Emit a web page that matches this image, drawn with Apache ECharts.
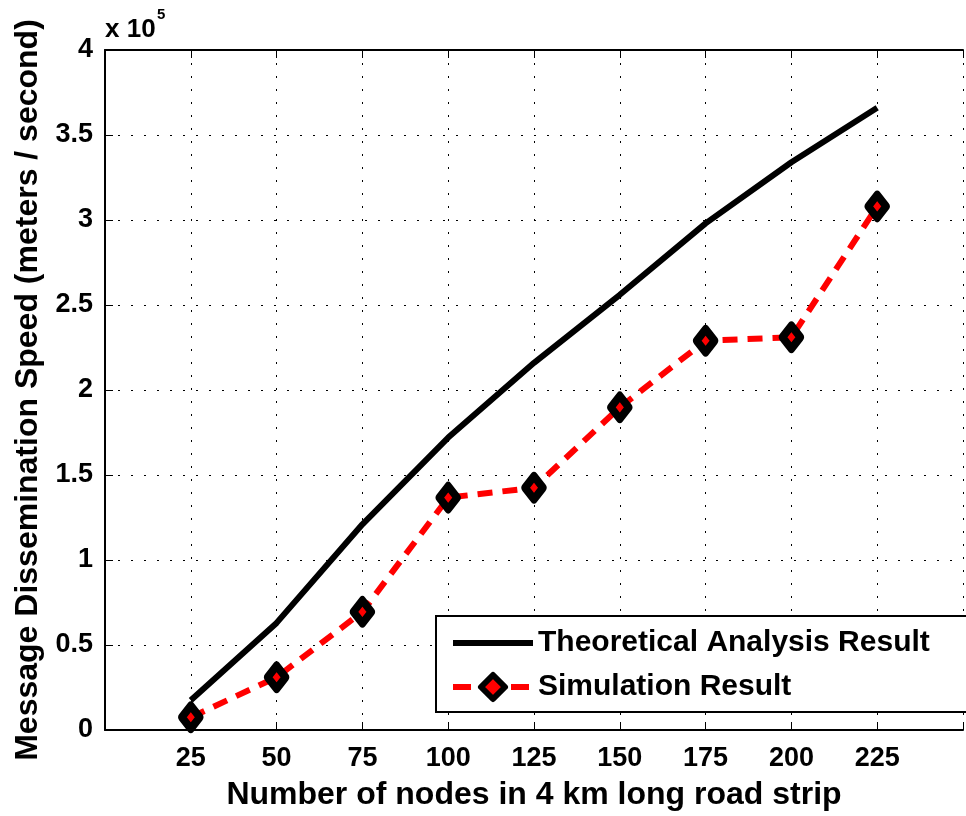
<!DOCTYPE html>
<html><head><meta charset="utf-8">
<script src="https://cdn.jsdelivr.net/npm/echarts@6/dist/echarts.min.js"></script>
<style>html,body{margin:0;padding:0;background:#fff;overflow:hidden}#c{width:966px;height:816px}</style>
</head><body><div id="c"></div>
<script>
const nodes = [25, 50, 75, 100, 125, 150, 175, 200, 225];
const theoretical = [0.175, 0.63, 1.21, 1.72, 2.16, 2.56, 2.98, 3.34, 3.66];
const simulation = [0.075, 0.31, 0.695, 1.367, 1.425, 1.898, 2.29, 2.31, 3.08];
const xLabels = [25, 50, 75, 100, 125, 150, 175, 200, 225];
const seriesNames = ['Theoretical Analysis Result', 'Simulation Result'];
const xTitle = 'Number of nodes in 4 km long road strip';
const yTitle = 'Message Dissemination Speed (meters / second)';

const FONT = '"Liberation Sans", Arial, Helvetica, sans-serif';
const chart = echarts.init(document.getElementById('c'), null, {renderer: 'canvas', width: 966, height: 816});
const dotted = {color: '#000', width: 1, type: [2, 11]};

chart.setOption({
  animation: false,
  backgroundColor: '#fff',
  grid: {left: 105, top: 50, right: -6, bottom: 81, containLabel: false},
  legend: {
    orient: 'vertical',
    left: 436, top: 616,
    padding: [12, 80, 10, 14],
    itemGap: 14,
    itemWidth: 80, itemHeight: 30,
    backgroundColor: '#fff',
    borderColor: '#000', borderWidth: 2, borderRadius: 0,
    textStyle: {fontFamily: FONT, fontWeight: 'bold', fontSize: 30, color: '#000', lineHeight: 30},
    data: [
      {name: seriesNames[0], icon: 'path://M0 0H80V6H0Z', itemStyle: {color: '#000'}},
      {name: seriesNames[1], lineStyle: {width: 6, type: [18, 40], color: '#ff0000'},
       itemStyle: {color: '#ff0000', borderColor: '#000', borderWidth: 6, borderJoin: 'round'}}
    ]
  },
  xAxis: [{
    type: 'value', min: 0, max: 250, interval: 25, position: 'bottom',
    name: xTitle, nameLocation: 'middle', nameGap: 49,
    nameTextStyle: {fontFamily: FONT, fontWeight: 'bold', fontSize: 32, color: '#000'},
    axisLine: {show: true, lineStyle: {color: '#000', width: 2}},
    axisTick: {show: true, inside: true, length: 8, lineStyle: {color: '#000', width: 1}},
    axisLabel: {
      fontFamily: FONT, fontWeight: 'bold', fontSize: 27, color: '#000', margin: 15,
      formatter: v => xLabels.indexOf(v) >= 0 ? String(v) : ''
    },
    splitLine: {show: true, lineStyle: dotted}
  }, {
    type: 'value', min: 0, max: 250, interval: 25, position: 'top',
    axisLine: {show: true, onZero: false, lineStyle: {color: '#000', width: 2}},
    axisTick: {show: true, inside: true, length: 8, lineStyle: {color: '#000', width: 1}},
    axisLabel: {show: false}, splitLine: {show: false}
  }],
  yAxis: {
    type: 'value', min: 0, max: 4, interval: 0.5,
    name: yTitle, nameLocation: 'middle', nameGap: 60, nameRotate: 90,
    nameTextStyle: {fontFamily: FONT, fontWeight: 'bold', fontSize: 32, color: '#000'},
    axisLine: {show: true, lineStyle: {color: '#000', width: 2}},
    axisTick: {show: true, inside: true, length: 8, lineStyle: {color: '#000', width: 1}},
    axisLabel: {fontFamily: FONT, fontWeight: 'bold', fontSize: 27, color: '#000', margin: 12},
    splitLine: {show: true, lineStyle: dotted}
  },
  graphic: [{
    type: 'text', x: 105, y: 30, z: 100,
    style: {text: 'x 10', fontFamily: FONT, fontWeight: 'bold', fontSize: 26, fill: '#000', align: 'left', verticalAlign: 'middle'}
  }, {
    type: 'text', x: 157, y: 15, z: 100,
    style: {text: '5', fontFamily: FONT, fontWeight: 'bold', fontSize: 15, fill: '#000', align: 'left', verticalAlign: 'middle'}
  }],
  series: [{
    name: seriesNames[0], type: 'line', xAxisIndex: 0,
    data: nodes.map((n, i) => [n, theoretical[i]]),
    showSymbol: false, symbol: 'none',
    lineStyle: {color: '#000', width: 6, type: 'solid', cap: 'butt'},
    itemStyle: {color: '#000'}, z: 2
  }, {
    name: seriesNames[1], type: 'line', xAxisIndex: 0,
    data: nodes.map((n, i) => [n, simulation[i]]),
    symbol: 'diamond', symbolSize: [18, 23], showSymbol: true,
    lineStyle: {color: '#ff0000', width: 6, type: [15, 10], cap: 'butt'},
    itemStyle: {color: '#ff0000', borderColor: '#000', borderWidth: 8, borderJoin: 'round'},
    z: 3
  }]
});
</script></body></html>
